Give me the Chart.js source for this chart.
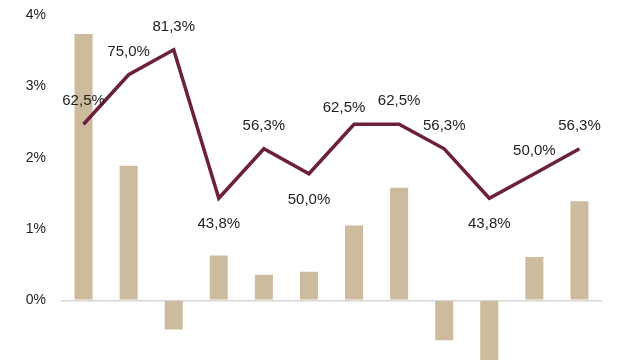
<!DOCTYPE html>
<html>
<head>
<meta charset="utf-8">
<script src="https://cdn.jsdelivr.net/npm/chart.js@4/dist/chart.umd.min.js"></script>
<style>
  html, body { margin: 0; padding: 0; background: #fff; overflow: hidden; }
  #wrap { position: relative; width: 640px; height: 403px; margin-top: -8px; }
</style>
</head>
<body>
<div id="wrap"><canvas id="chart"></canvas></div>
<script>
// ===== DATA =====
const categories = ["1", "2", "3", "4", "5", "6", "7", "8", "9", "10", "11", "12"];
const barValues = [3.74, 1.89, -0.41, 0.63, 0.36, 0.40, 1.05, 1.58, -0.56, -0.92, 0.61, 1.39];
const lineValues = [62.5, 75.0, 81.3, 43.8, 56.3, 50.0, 62.5, 62.5, 56.3, 43.8, 50.0, 56.3];
const leftTicks = [-1, 0, 1, 2, 3, 4];

const BAR_COLOR = "#cdbb9e";
const LINE_COLOR = "#6b2139";
const fmt = v => v.toFixed(1).replace(".", ",") + "%";

// ===== LINE LABELS (above, or below at local dips) =====
const lineLabels = {
  id: "lineLabels",
  afterDatasetsDraw(chart) {
    const meta = chart.getDatasetMeta(1);
    const ctx = chart.ctx;
    ctx.save();
    ctx.font = "15px 'Liberation Sans', Arial, sans-serif";
    ctx.fillStyle = "#222";
    ctx.textAlign = "center";
    ctx.textBaseline = "middle";
    meta.data.forEach((pt, i) => {
      const v = lineValues[i];
      const prev = i > 0 ? lineValues[i - 1] : -Infinity;
      const next = i < lineValues.length - 1 ? lineValues[i + 1] : -Infinity;
      const dip = v < prev && v < next;
      let dx = 0, dy = dip ? 26 : -23;
      if (!dip && v === next && v > prev) { dx = -10; dy = -16; }
      ctx.fillText(fmt(v), pt.x + dx, pt.y + dy);
    });
    ctx.restore();
  }
};

new Chart(document.getElementById("chart"), {
  data: {
    labels: categories,
    datasets: [
      {
        type: "bar",
        data: barValues,
        backgroundColor: BAR_COLOR,
        barPercentage: 0.4,
        categoryPercentage: 1,
        yAxisID: "y",
        order: 2
      },
      {
        type: "line",
        data: lineValues,
        borderColor: LINE_COLOR,
        borderWidth: 3.5,
        tension: 0,
        pointRadius: 0,
        yAxisID: "y2",
        order: 1
      }
    ]
  },
  options: {
    responsive: true,
    maintainAspectRatio: false,
    animation: false,
    layout: { padding: { top: 6, right: 38, bottom: 0, left: 0 } },
    plugins: { legend: { display: false }, tooltip: { enabled: false } },
    scales: {
      x: { display: false, grid: { display: false } },
      y: {
        position: "left",
        min: -1,
        max: 4,
        afterBuildTicks: s => { s.ticks = leftTicks.filter(v => v >= 0).map(v => ({ value: v })); },
        afterFit: s => { s.width = 61; },
        border: { display: false },
        grid: {
          drawTicks: false,
          color: c => c.tick.value === 0 ? "#d6d6d6" : "transparent",
          lineWidth: 1.5
        },
        ticks: {
          padding: 15,
          color: "#222",
          font: { family: "'Liberation Sans', Arial, sans-serif", size: 14 },
          callback: v => v + "%"
        }
      },
      y2: { display: false, min: 0, max: 90 }
    }
  },
  plugins: [lineLabels]
});
</script>
</body>
</html>
